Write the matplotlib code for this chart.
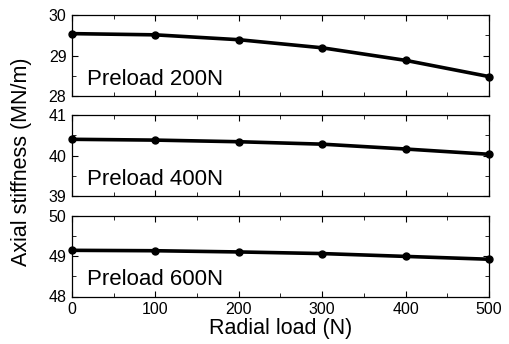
import matplotlib.pyplot as plt
from matplotlib.ticker import MultipleLocator

plt.rcParams['font.family'] = ['Liberation Sans', 'DejaVu Sans']

radial_load = [0, 100, 200, 300, 400, 500]
stiff_200 = [29.54, 29.51, 29.39, 29.19, 28.88, 28.48]
stiff_400 = [40.40, 40.38, 40.34, 40.28, 40.16, 40.03]
stiff_600 = [49.14, 49.13, 49.10, 49.06, 48.99, 48.92]
labels = ["Preload 200N", "Preload 400N", "Preload 600N"]
ylims = [(28, 30), (39, 41), (48, 50)]

fig = plt.figure(figsize=(5.1, 3.44), dpi=100)
W, H = 510, 344
left, right = 72, 489
tops = [15, 115, 215.5]
height = 81

for i, (vals, lab, yl) in enumerate(zip([stiff_200, stiff_400, stiff_600], labels, ylims)):
    ax = fig.add_axes([left / W, 1 - (tops[i] + height) / H, (right - left) / W, height / H])
    ax.plot(radial_load, vals, color="black", linewidth=2.6, marker="o", markersize=5, clip_on=False)
    ax.set_xlim(0, 500)
    ax.set_ylim(*yl)
    ax.xaxis.set_major_locator(MultipleLocator(100))
    ax.xaxis.set_minor_locator(MultipleLocator(50))
    ax.yaxis.set_major_locator(MultipleLocator(1))
    ax.yaxis.set_minor_locator(MultipleLocator(0.5))
    ax.tick_params(which="both", direction="in", top=True, right=True, labelsize=11.5, pad=4)
    ax.tick_params(which="major", length=4)
    ax.tick_params(which="minor", length=3)
    for s in ax.spines.values():
        s.set_linewidth(0.9)
    if i < 2:
        ax.set_xticklabels([])
    else:
        ax.set_xlabel("Radial load (N)", fontsize=15.5, labelpad=1)
    ax.text(0.035, 0.136, lab, transform=ax.transAxes, fontsize=16, va="baseline")

fig.text(22 / W, 1 - 162 / H, "Axial stiffness (MN/m)", rotation=90, fontsize=15.5,
         ha="center", va="center")

fig.savefig("out.png", dpi=100)
